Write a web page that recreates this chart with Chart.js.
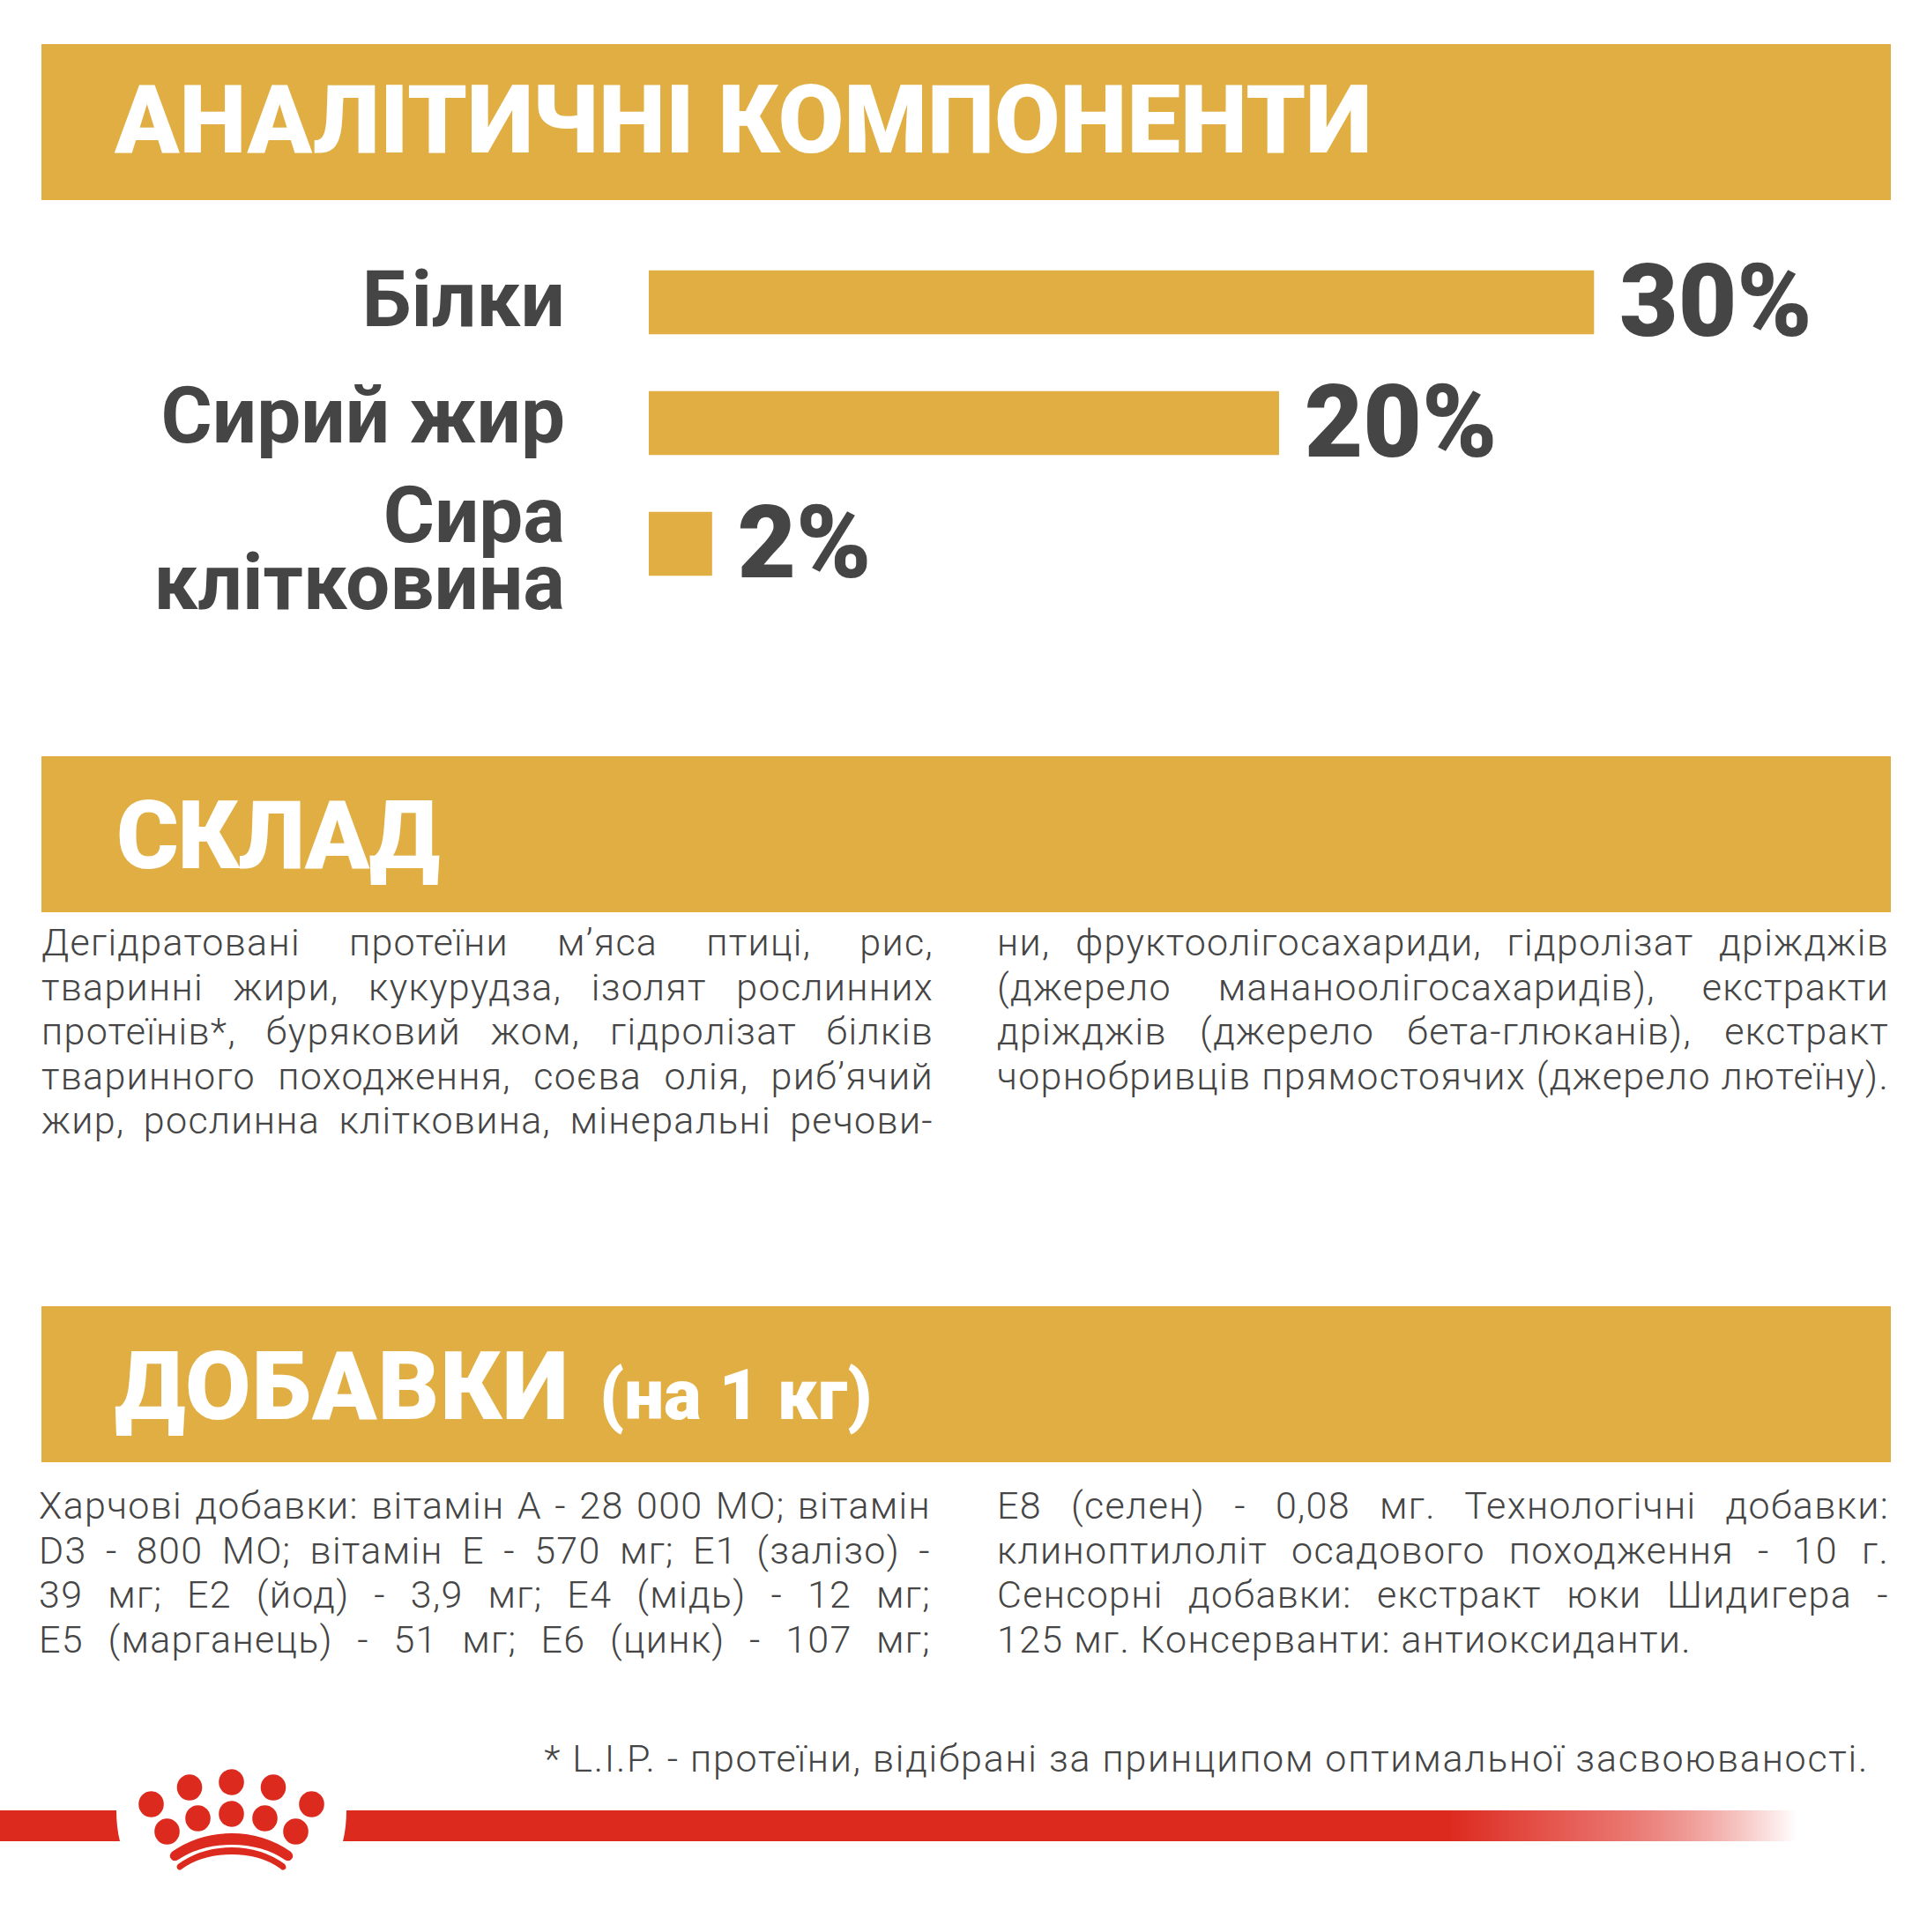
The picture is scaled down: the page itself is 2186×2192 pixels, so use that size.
<!DOCTYPE html>
<html lang="uk">
<head>
<meta charset="utf-8">
<title>Аналітичні компоненти</title>
<script src="https://cdn.jsdelivr.net/npm/chart.js@4"></script>
<style>
  html, body { margin: 0; background: #fff; }
  #page { position: relative; width: 2186px; height: 2192px; overflow: hidden; font-family: Roboto, sans-serif; color: #454545; }
  .band { position: absolute; left: 47px; width: 2098px; background: #e0ae42; }
  .head { position: absolute; color: #fff; font-weight: 900; font-size: 108px; line-height: 108px; white-space: nowrap; }
  .head small { font-size: 80px; margin-left: 34px; letter-spacing: 0; }
  .col { position: absolute; width: 1012px; font-weight: 300; font-size: 43px; line-height: 50.6px; letter-spacing: 1.3px; }
  .col div { white-space: nowrap; text-align: justify; text-align-last: justify; }
  .col.tail div:last-child { text-align-last: left; }
  #note { position: absolute; right: 66px; top: 1970px; font-weight: 300; font-size: 43px; letter-spacing: 1.75px; white-space: nowrap; }
  #chart { position: absolute; left: 0; top: 140px; }
  #logo { position: absolute; left: 0; top: 0; }
</style>
</head>
<body>
<div id="page">
  <div class="band" style="top:50px;height:177px"></div>
  <div class="band" style="top:858px;height:177px"></div>
  <div class="band" style="top:1482px;height:177px"></div>
  <div class="head" id="head1" style="left:130px;top:82px"></div>
  <div class="head" id="head2" style="left:132px;top:894px;letter-spacing:-1.4px"></div>
  <div class="head" id="head3" style="left:130px;top:1519px;letter-spacing:1px"></div>
  <canvas id="chart" width="2186" height="680"></canvas>
  <div class="col" id="comp1" style="left:47px;top:1044px"></div>
  <div class="col" id="comp2" style="left:1131px;top:1044px"></div>
  <div class="col" id="add1" style="left:44px;top:1683px"></div>
  <div class="col tail" id="add2" style="left:1131px;top:1683px"></div>
  <div id="note"></div>
  <svg id="logo" width="2186" height="2192" viewBox="0 0 2186 2192">
    <defs>
      <linearGradient id="fade" gradientUnits="userSpaceOnUse" x1="1644" y1="0" x2="2038" y2="0">
        <stop offset="0" stop-color="#dd2a1f"/>
        <stop offset="0.45" stop-color="#e86d66"/>
        <stop offset="1" stop-color="#dd2a1f" stop-opacity="0"/>
      </linearGradient>
    </defs>
    <path fill="#dd2a1f" d="M0 2054H132Q132 2073 136 2089H0Z"/>
    <path fill="url(#fade)" d="M393 2054H2040V2089H389Q393 2073 393 2054Z"/>
    <g fill="#dd2a1f">
      <ellipse cx="171.5" cy="2047" rx="14.3" ry="14.7"/>
      <ellipse cx="215" cy="2028" rx="14.3" ry="14.7"/>
      <ellipse cx="262.5" cy="2022" rx="14.3" ry="14.7"/>
      <ellipse cx="310" cy="2028" rx="14.3" ry="14.7"/>
      <ellipse cx="353.5" cy="2047" rx="14.3" ry="14.7"/>
      <ellipse cx="189.5" cy="2078" rx="14.3" ry="14.7"/>
      <ellipse cx="224.5" cy="2063" rx="14.3" ry="14.7"/>
      <ellipse cx="262.5" cy="2058" rx="14.3" ry="14.7"/>
      <ellipse cx="300.5" cy="2063" rx="14.3" ry="14.7"/>
      <ellipse cx="335.5" cy="2078" rx="14.3" ry="14.7"/>
      <path d="M195 2101Q225 2080 262.5 2080Q300 2080 330 2101Q334 2106 331 2109Q328 2113 323 2110Q298 2093 262.5 2093Q227 2093 202 2110Q197 2113 194 2109Q191 2105 195 2101Z"/>
      <path d="M202 2115Q228 2096 262.5 2096Q297 2096 323 2115Q326 2119 323 2121Q320 2123 318 2120Q296 2104 262.5 2104Q229 2104 207 2120Q204 2123 202 2121Q199 2118 202 2115Z"/>
    </g>
  </svg>
</div>
<script>
const categories = ['Білки', 'Сирий жир', ['Сира', 'клітковина']];
const percents = [30, 20, 2];

const head1 = 'АНАЛІТИЧНІ КОМПОНЕНТИ';
const head2 = 'СКЛАД';
const head3 = 'ДОБАВКИ';
const head3unit = '(на 1 кг)';

const compLeft = [
  'Дегідратовані протеїни м’яса птиці, рис,',
  'тваринні жири, кукурудза, ізолят рослинних',
  'протеїнів*, буряковий жом, гідролізат білків',
  'тваринного походження, соєва олія, риб’ячий',
  'жир, рослинна клітковина, мінеральні речови-'
];
const compRight = [
  'ни, фруктоолігосахариди, гідролізат дріжджів',
  '(джерело мананоолігосахаридів), екстракти',
  'дріжджів (джерело бета-глюканів), екстракт',
  'чорнобривців прямостоячих (джерело лютеїну).'
];
const addLeft = [
  'Харчові добавки: вітамін А - 28 000 МО; вітамін',
  'D3 - 800 МО; вітамін Е - 570 мг; Е1 (залізо) -',
  '39 мг; Е2 (йод) - 3,9 мг; Е4 (мідь) - 12 мг;',
  'Е5 (марганець) - 51 мг; Е6 (цинк) - 107 мг;'
];
const addRight = [
  'Е8 (селен) - 0,08 мг. Технологічні добавки:',
  'клиноптилоліт осадового походження - 10 г.',
  'Сенсорні добавки: екстракт юки Шидигера -',
  '125 мг. Консерванти: антиоксиданти.'
];
const footnote = '* L.I.P. - протеїни, відібрані за принципом оптимальної засвоюваності.';

function fillCol(id, lines) {
  const box = document.getElementById(id);
  lines.forEach(function(line) {
    const row = document.createElement('div');
    row.textContent = line;
    box.appendChild(row);
  });
}

document.getElementById('head1').textContent = head1;
document.getElementById('head2').textContent = head2;
document.getElementById('head3').textContent = head3;
const unit = document.createElement('small');
unit.textContent = head3unit;
document.getElementById('head3').appendChild(unit);
fillCol('comp1', compLeft);
fillCol('comp2', compRight);
fillCol('add1', addLeft);
fillCol('add2', addRight);
document.getElementById('note').textContent = footnote;

// percent labels next to the bars
const valueLabels = {
  id: 'valueLabels',
  afterDatasetsDraw(chart) {
    const ctx = chart.ctx;
    const bars = chart.getDatasetMeta(0).data;
    ctx.save();
    ctx.fillStyle = '#454545';
    ctx.font = '900 115px Roboto';
    ctx.textAlign = 'left';
    ctx.textBaseline = 'alphabetic';
    bars.forEach(function(bar, i) {
      ctx.fillText(percents[i] + '%', bar.x + 29, bar.y + 38);
    });
    ctx.restore();
  }
};

// the tick labels do not sit exactly on the bar centres in the original
const tickNudge = {
  id: 'tickNudge',
  afterLayout(chart) {
    const nudges = [5, 0, 14];
    chart.scales.y.getLabelItems().forEach(function(item, i) {
      item.textOffset += nudges[i];
    });
  }
};

Chart.defaults.animation = false;

new Chart('chart', {
  type: 'bar',
  data: {
    labels: categories,
    datasets: [{
      data: percents,
      backgroundColor: '#e0ae42',
      borderWidth: 0,
      barThickness: 72
    }]
  },
  options: {
    indexAxis: 'y',
    responsive: false,
    devicePixelRatio: 1,
    // big top and bottom padding so the tall tick labels do not squeeze the plot area
    layout: { padding: { top: 134.5, bottom: 134.5, left: 0, right: 20.7 } },
    plugins: { legend: { display: false }, tooltip: { enabled: false }, title: { display: false } },
    scales: {
      x: { display: false, min: 0, max: 40 },
      y: {
        afterFit(scale) { scale.width = 736; },
        grid: { display: false, drawTicks: true, tickLength: 95 },
        border: { display: false },
        ticks: {
          color: '#454545',
          padding: 0,
          autoSkip: false,
          font: { family: 'Roboto', weight: 700, size: 89, lineHeight: 0.85 }
        }
      }
    }
  },
  plugins: [valueLabels, tickNudge]
});
</script>
</body>
</html>
